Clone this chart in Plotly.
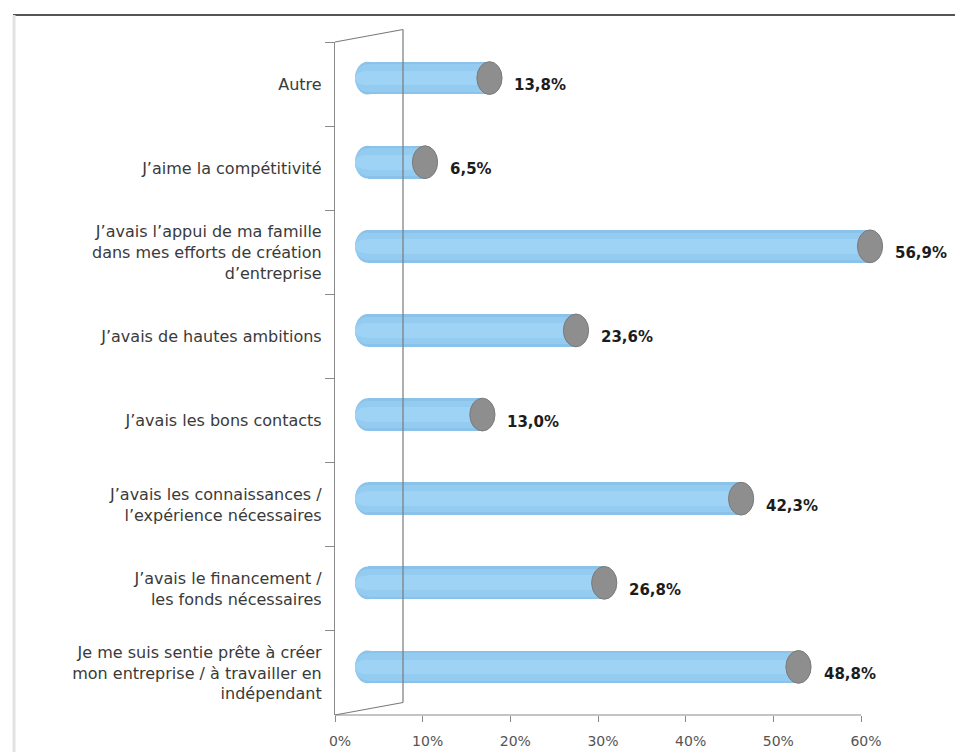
import plotly.graph_objects as go

# Survey answers, listed from top to bottom as they appear on the chart
categories = [
    "Autre",
    "J’aime la compétitivité",
    "J’avais l’appui de ma famille<br>dans mes efforts de création<br>d’entreprise",
    "J’avais de hautes ambitions",
    "J’avais les bons contacts",
    "J’avais les connaissances /<br>l’expérience nécessaires",
    "J’avais le financement /<br>les fonds nécessaires",
    "Je me suis sentie prête à créer<br>mon entreprise / à travailler en<br>indépendant",
]
values = [13.8, 6.5, 56.9, 23.6, 13.0, 42.3, 26.8, 48.8]
x_ticks = [0, 10, 20, 30, 40, 50, 60]
x_tick_text = [f"{t}%" for t in x_ticks]

# ---- geometry (pixels) ----
W, H = 955, 752
L, T, B = 335, 42, 37
AXIS_END = 861                     # pixel where 60 % sits
X_SCALE = (AXIS_END - L) / x_ticks[-1]
R = 5                              # plot area runs on so the longest bar keeps its label
PW, PH = W - L - R, H - T - B
n = len(categories)
BAND = PH / n

# pseudo-3D depth: bars sit half-way back, the back wall at full depth
BAR_DX, BAR_DY = 32.6, 6.0
WALL_DX, WALL_DY = 68.0, 12.5
BAR_SCALE = 8.83            # px per percent for the bar plane
BAR_W = 0.39                # bar thickness in category units
CAP_HALF_W = 12.6 / BAR_SCALE
CAP_HALF_H = BAR_W / 2

def px(x):
    return (x - L) / PW

def py(y):
    return (H - B - y) / PH

x2_lo = -(BAR_DX / BAR_SCALE)
x2_hi = x2_lo + PW / BAR_SCALE
y_shift = BAR_DY / BAND

# cylinder shading layers: (relative thickness, colour)
shade = [(1.0, "#8bc2e9"), (0.84, "#94cbf0"), (0.45, "#9ed3f5")]
cap_gray = "#8e8e8e"
axis_gray = "#8a8a8a"

fig = go.Figure()

for frac, col in shade:
    fig.add_trace(go.Bar(
        x=values, y=categories, base=0, orientation="h",
        width=BAR_W * frac, marker=dict(color=col, line=dict(width=0)),
        xaxis="x2", yaxis="y2", hoverinfo="skip", showlegend=False,
        cliponaxis=False,
    ))

# invisible trace on the front axes so they get drawn
fig.add_trace(go.Scatter(x=[None], y=[categories[0]], mode="markers",
                         showlegend=False, hoverinfo="skip"))

shapes = []
for i, v in enumerate(values):
    # rounded left end of the cylinder, shaded like the body
    for frac, col in shade:
        shapes.append(dict(type="circle", xref="x2", yref="y2", layer="below",
                           x0=-CAP_HALF_W, x1=CAP_HALF_W,
                           y0=i - CAP_HALF_H * frac, y1=i + CAP_HALF_H * frac,
                           fillcolor=col, line=dict(width=0)))
    # grey end face
    shapes.append(dict(type="circle", xref="x2", yref="y2", layer="above",
                       x0=v - CAP_HALF_W, x1=v + CAP_HALF_W,
                       y0=i - CAP_HALF_H, y1=i + CAP_HALF_H,
                       fillcolor=cap_gray, line=dict(color="#7a7a7a", width=1)))

# horizontal axis line, only as far as the last tick
shapes.append(dict(type="line", xref="x", yref="paper",
                   x0=0, x1=x_ticks[-1], y0=0, y1=0,
                   line=dict(color=axis_gray, width=1.2)))

# back wall and its links to the front axis
wall_x = px(L + WALL_DX)
shapes += [
    dict(type="line", xref="paper", yref="paper",
         x0=wall_x, x1=wall_x, y0=py(H - B - WALL_DY), y1=py(T - WALL_DY),
         line=dict(color="#7a7a7a", width=1.2)),
    dict(type="line", xref="paper", yref="paper",
         x0=0, x1=wall_x, y0=1, y1=py(T - WALL_DY),
         line=dict(color="#7a7a7a", width=1.2)),
    dict(type="line", xref="paper", yref="paper",
         x0=0, x1=wall_x, y0=0, y1=py(H - B - WALL_DY),
         line=dict(color="#7a7a7a", width=1.2)),
    # page frame
    dict(type="line", xref="paper", yref="paper",
         x0=px(13), x1=px(W), y0=py(15), y1=py(15),
         line=dict(color="#555555", width=2)),
    dict(type="line", xref="paper", yref="paper",
         x0=px(14), x1=px(14), y0=py(15), y1=py(H),
         line=dict(color="#e2e2e2", width=3)),
]

annotations = []
for c, v in zip(categories, values):
    annotations.append(dict(
        x=v, y=c, xref="x2", yref="y", xanchor="left", yanchor="middle",
        xshift=23, yshift=-1, showarrow=False,
        text=f"{v:.1f}".replace(".", ",") + "%",
        font=dict(family="DejaVu Sans", size=15, color="#1c1c1c", weight="bold"),
    ))

fig.update_layout(
    width=W, height=H,
    margin=dict(l=L, r=R, t=T, b=B, pad=0),
    paper_bgcolor="white", plot_bgcolor="white",
    barmode="overlay", bargap=0,
    shapes=shapes, annotations=annotations,
    xaxis=dict(
        range=[0, PW / X_SCALE], tickvals=x_ticks, ticktext=x_tick_text,
        showgrid=False, zeroline=False, showline=False, automargin=False,
        ticks="outside", ticklen=6, tickcolor=axis_gray,
        tickfont=dict(family="DejaVu Sans", size=14, color="#555555"),
        ticklabelshift=5, ticklabelstandoff=7, fixedrange=True,
    ),
    yaxis=dict(
        type="category", categoryorder="array", categoryarray=categories,
        range=[n - 0.5, -0.5], automargin=False,
        showgrid=False, zeroline=False,
        showline=True, linecolor=axis_gray, linewidth=1.2,
        ticks="outside", ticklen=9, tickcolor=axis_gray, tickson="boundaries",
        tickfont=dict(family="DejaVu Sans", size=16, color="#3a3a3a"),
        ticklabelstandoff=9, fixedrange=True,
    ),
    xaxis2=dict(overlaying="x", anchor="y2", range=[x2_lo, x2_hi],
                visible=False, fixedrange=True),
    yaxis2=dict(overlaying="y", anchor="x2", type="category",
                categoryorder="array", categoryarray=categories,
                range=[n - 0.5 + y_shift, -0.5 + y_shift],
                visible=False, fixedrange=True),
)

fig.write_html("out.html")
